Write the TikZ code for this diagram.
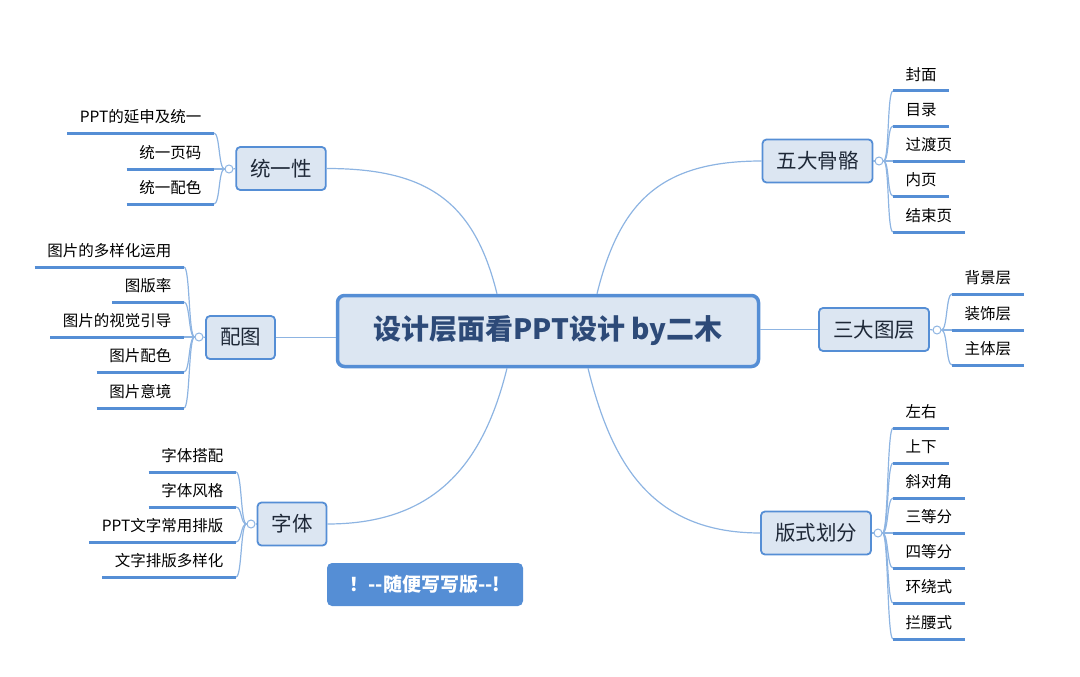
\documentclass[tikz,border=0pt]{standalone}
\usepackage{fontspec}
\newfontfamily\cjk{Noto Sans CJK SC}
\usetikzlibrary{calc}
\definecolor{mainblue}{RGB}{85,142,213}
\definecolor{fillblue}{RGB}{220,230,242}
\definecolor{linkblue}{RGB}{141,180,226}
\definecolor{titletext}{RGB}{45,74,120}
\definecolor{branchtext}{RGB}{30,40,55}
\begin{document}
\begin{tikzpicture}[x=1pt,y=-1pt,
  centerbox/.style={draw=mainblue,line width=3.5pt,fill=fillblue,rounded corners=7pt,
    minimum width=421pt,minimum height=71pt,inner sep=0pt,
    font=\cjk\bfseries\fontsize{28pt}{32pt}\selectfont,text=titletext},
  branch/.style={draw=mainblue,line width=1.8pt,fill=fillblue,rounded corners=4pt,
    minimum height=43pt,inner xsep=14pt,inner ysep=0pt,
    font=\cjk\fontsize{20.5pt}{24pt}\selectfont,text=branchtext},
  knob/.style={circle,draw=linkblue,line width=1pt,fill=white,minimum size=8pt,inner sep=0pt},
  leaf/.style={inner xsep=12.5pt,inner ysep=7pt,text height=12pt,text depth=3pt,
    font=\cjk\fontsize{15.5pt}{18pt}\selectfont,text=black},
  rleaf/.style={leaf,anchor=south west},
  lleaf/.style={leaf,anchor=south east},
  uline/.style={draw=mainblue,line width=3pt},
  link/.style={draw=linkblue,line width=1.2pt},
  notebox/.style={fill=mainblue,rounded corners=5pt,minimum width=196pt,minimum height=43pt,
    inner sep=0pt,font=\cjk\bfseries\fontsize{19pt}{22pt}\selectfont,text=white}
]
\useasboundingbox (0,0) rectangle (1080,677);

% central
\node[centerbox] (ctr) at (548,331) {设计层面看PPT设计 by二木};

% branches
\node[branch] (n1) at (817.5,161) {五大骨骼};
\node[branch] (n2) at (874,329.5) {三大图层};
\node[branch] (n3) at (816,533) {版式划分};
\node[branch] (n4) at (281,168.5) {统一性};
\node[branch] (n5) at (240.5,337.5) {配图};
\node[branch] (n6) at (292,524) {字体};

% knobs
\node[knob] (k1) at (879,161) {};
\node[knob] (k2) at (937,330) {};
\node[knob] (k3) at (878,533) {};
\node[knob] (k4) at (229,169) {};
\node[knob] (k5) at (199,337) {};
\node[knob] (k6) at (251,524) {};

% leaves: 五大骨骼
\node[rleaf] (p1) at (893,91) {封面};
\node[rleaf] (p2) at (893,126) {目录};
\node[rleaf] (p3) at (893,161) {过渡页};
\node[rleaf] (p4) at (893,196) {内页};
\node[rleaf] (p5) at (893,232) {结束页};
% 三大图层
\node[rleaf] (q1) at (952,294) {背景层};
\node[rleaf] (q2) at (952,330) {装饰层};
\node[rleaf] (q3) at (952,365) {主体层};
% 版式划分
\node[rleaf] (r1) at (893,428) {左右};
\node[rleaf] (r2) at (893,463) {上下};
\node[rleaf] (r3) at (893,498) {斜对角};
\node[rleaf] (r4) at (893,533) {三等分};
\node[rleaf] (r5) at (893,568) {四等分};
\node[rleaf] (r6) at (893,603) {环绕式};
\node[rleaf] (r7) at (893,639) {拦腰式};
% 统一性
\node[lleaf] (s1) at (214,133) {PPT的延申及统一};
\node[lleaf] (s2) at (214,169) {统一页码};
\node[lleaf] (s3) at (214,204) {统一配色};
% 配图
\node[lleaf] (t1) at (184,267) {图片的多样化运用};
\node[lleaf] (t2) at (184,302) {图版率};
\node[lleaf] (t3) at (184,337) {图片的视觉引导};
\node[lleaf] (t4) at (184,372) {图片配色};
\node[lleaf] (t5) at (184,408) {图片意境};
% 字体
\node[lleaf] (u1) at (236,472) {字体搭配};
\node[lleaf] (u2) at (236,507) {字体风格};
\node[lleaf] (u3) at (236,542) {PPT文字常用排版};
\node[lleaf] (u4) at (236,577) {文字排版多样化};

% note
\node[notebox] (note) at (425,584.5) {！--随便写写版--!};

% central connectors
\draw[link] ($(ctr.north)+(49,0)$) .. controls +(23,-93) and +(-100,0) .. (n1.west);
\draw[link] ($(ctr.south)+(40,0)$) .. controls +(23,93) and +(-110,0) .. (n3.west);
\draw[link] ($(ctr.north)+(-51,0)$) .. controls +(-23,-93) and +(100,0) .. (n4.east);
\draw[link] ($(ctr.south)+(-41,0)$) .. controls +(-23,93) and +(110,0) .. (n6.east);
\draw[link] (ctr.east |- n2.west) -- (n2.west);
\draw[link] (n5.east) -- (n5.east -| ctr.west);

% branch to knob
\draw[link] (n1.east) -- (k1.west);
\draw[link] (n2.east) -- (k2.west);
\draw[link] (n3.east) -- (k3.west);
\draw[link] (n4.west) -- (k4.east);
\draw[link] (n5.west) -- (k5.east);
\draw[link] (n6.west) -- (k6.east);

% knob to leaves
\foreach \l in {p1,p2,p3,p4,p5}
  \draw[link] (k1.east) .. controls +(6,0) and +(-6,0) .. (\l.south west);
\foreach \l in {q1,q2,q3}
  \draw[link] (k2.east) .. controls +(6,0) and +(-6,0) .. (\l.south west);
\foreach \l in {r1,r2,r3,r4,r5,r6,r7}
  \draw[link] (k3.east) .. controls +(6,0) and +(-6,0) .. (\l.south west);
\foreach \l in {s1,s2,s3}
  \draw[link] (k4.west) .. controls +(-6,0) and +(6,0) .. (\l.south east);
\foreach \l in {t1,t2,t3,t4,t5}
  \draw[link] (k5.west) .. controls +(-6,0) and +(6,0) .. (\l.south east);
\foreach \l in {u1,u2,u3,u4}
  \draw[link] (k6.west) .. controls +(-6,0) and +(6,0) .. (\l.south east);

% underlines
\foreach \l in {p1,p2,p3,p4,p5,q1,q2,q3,r1,r2,r3,r4,r5,r6,r7,s1,s2,s3,t1,t2,t3,t4,t5,u1,u2,u3,u4}
  \draw[uline] (\l.south west) -- (\l.south east);
\end{tikzpicture}
\end{document}
